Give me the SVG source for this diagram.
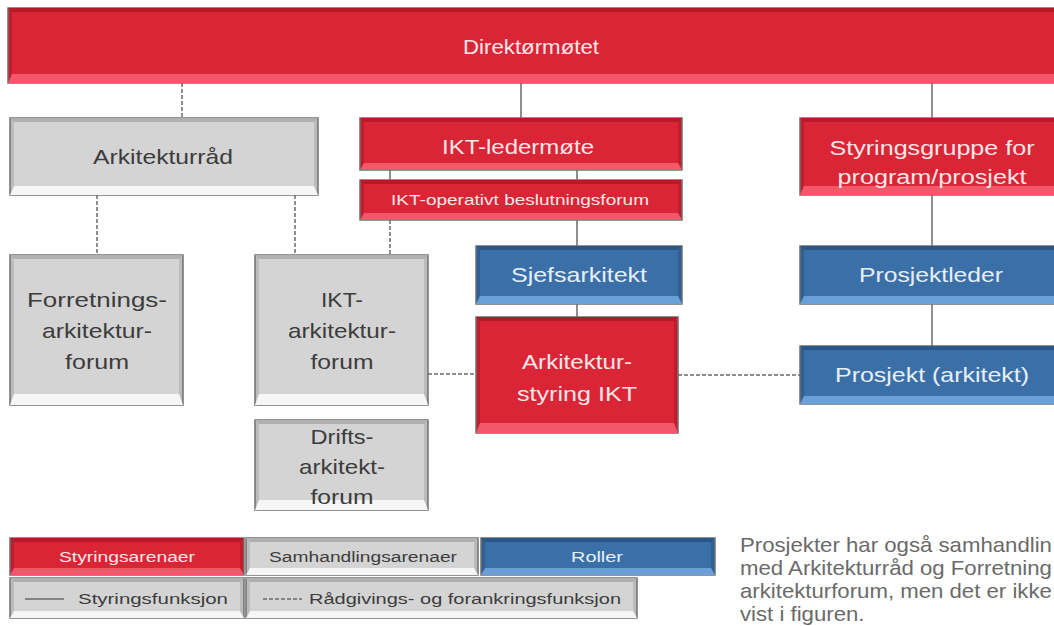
<svg xmlns="http://www.w3.org/2000/svg" width="1054" height="626" viewBox="0 0 1054 626">
<style>
text{font-family:"Liberation Sans",Arial,sans-serif;text-anchor:middle}
.side{stroke:#707070;stroke-width:1.5}
.red .side{fill:#c21d2d}.red .top{fill:#b51a29}.red .bot{fill:#f4566a}.red .face{fill:#da2536}.red text{fill:#fde6e8}
.blue .side{fill:#2f5f95}.blue .top{fill:#2a5688}.blue .bot{fill:#6aa0d8}.blue .face{fill:#3b6fa7}.blue text{fill:#e6eff9}
.gray .side{fill:#bcbcbc}.gray .top{fill:#b0b0b0}.gray .bot{fill:#f6f6f6}.gray .face{fill:#d4d4d4}.gray text{fill:#3c3c3c}
.sol{stroke:#6a6a6a;stroke-width:1.5;fill:none}
.dsh{stroke:#6a6a6a;stroke-width:1.5;fill:none;stroke-dasharray:4 2}
.big{font-size:21px}
.leg{font-size:15.5px}
.note{font-size:20px;fill:#6a6a6a;text-anchor:start}
</style>
<g id="connectors">
<line class="dsh" x1="182" y1="83" x2="182" y2="118"/>
<line class="sol" x1="521" y1="83" x2="521" y2="118"/>
<line class="sol" x1="932" y1="83" x2="932" y2="118"/>
<line class="dsh" x1="97" y1="195" x2="97" y2="255"/>
<line class="dsh" x1="295" y1="195" x2="295" y2="255"/>
<line class="sol" x1="390" y1="170" x2="390" y2="180"/>
<line class="sol" x1="577" y1="170" x2="577" y2="180"/>
<line class="dsh" x1="390" y1="220" x2="390" y2="255"/>
<line class="sol" x1="577" y1="220" x2="577" y2="246"/>
<line class="sol" x1="577" y1="304" x2="577" y2="317"/>
<line class="sol" x1="932" y1="195" x2="932" y2="246"/>
<line class="sol" x1="932" y1="304" x2="932" y2="346"/>
<line class="dsh" x1="428" y1="374" x2="476" y2="374"/>
<line class="dsh" x1="678" y1="375" x2="800" y2="375"/>
</g>
<g id="direktormotet" class="box red">
<rect class="side" x="8" y="8" width="1060" height="75"/>
<polygon class="top" points="8,8 1068,8 1064,12 12,12"/>
<polygon class="bot" points="8,83 1068,83 1064,74 12,74"/>
<rect class="face" x="12" y="12" width="1052" height="62"/>
<text class="big" x="531" y="54" textLength="136" lengthAdjust="spacingAndGlyphs">Direktørmøtet</text>
</g>
<g id="arkitekturrad" class="box gray">
<rect class="side" x="10" y="118" width="308" height="77"/>
<polygon class="top" points="10,118 318,118 314,122 14,122"/>
<polygon class="bot" points="10,195 318,195 314,186 14,186"/>
<rect class="face" x="14" y="122" width="300" height="64"/>
<text class="big" x="163" y="164" textLength="140" lengthAdjust="spacingAndGlyphs">Arkitekturråd</text>
</g>
<g id="iktledermote" class="box red">
<rect class="side" x="360" y="118" width="322" height="52"/>
<polygon class="top" points="360,118 682,118 678,122 364,122"/>
<polygon class="bot" points="360,170 682,170 678,163 364,163"/>
<rect class="face" x="364" y="122" width="314" height="41"/>
<text class="big" x="518" y="154" textLength="152" lengthAdjust="spacingAndGlyphs">IKT-ledermøte</text>
</g>
<g id="iktoperativt" class="box red">
<rect class="side" x="360" y="180" width="322" height="40"/>
<polygon class="top" points="360,180 682,180 678,184 364,184"/>
<polygon class="bot" points="360,220 682,220 678,213 364,213"/>
<rect class="face" x="364" y="184" width="314" height="29"/>
<text x="520" y="205" font-size="14.5" textLength="258" lengthAdjust="spacingAndGlyphs">IKT-operativt beslutningsforum</text>
</g>
<g id="styringsgruppe" class="box red">
<rect class="side" x="800" y="118" width="270" height="77"/>
<polygon class="top" points="800,118 1070,118 1066,122 804,122"/>
<polygon class="bot" points="800,195 1070,195 1066,186 804,186"/>
<rect class="face" x="804" y="122" width="262" height="64"/>
<text font-size="20" x="932" y="155" textLength="205" lengthAdjust="spacingAndGlyphs">Styringsgruppe for</text>
<text font-size="20" x="932" y="184" textLength="189" lengthAdjust="spacingAndGlyphs">program/prosjekt</text>
</g>
<g id="forretningsarkitekturforum" class="box gray">
<rect class="side" x="10" y="255" width="173" height="150"/>
<polygon class="top" points="10,255 183,255 179,259 14,259"/>
<polygon class="bot" points="10,405 183,405 179,394 14,394"/>
<rect class="face" x="14" y="259" width="165" height="135"/>
<text class="big" x="97" y="307" textLength="140" lengthAdjust="spacingAndGlyphs">Forretnings-</text>
<text class="big" x="97" y="338" textLength="110" lengthAdjust="spacingAndGlyphs">arkitektur-</text>
<text class="big" x="97" y="369" textLength="64" lengthAdjust="spacingAndGlyphs">forum</text>
</g>
<g id="iktarkitekturforum" class="box gray">
<rect class="side" x="255" y="255" width="173" height="150"/>
<polygon class="top" points="255,255 428,255 424,259 259,259"/>
<polygon class="bot" points="255,405 428,405 424,394 259,394"/>
<rect class="face" x="259" y="259" width="165" height="135"/>
<text class="big" x="342" y="307" textLength="42" lengthAdjust="spacingAndGlyphs">IKT-</text>
<text class="big" x="342" y="338" textLength="108" lengthAdjust="spacingAndGlyphs">arkitektur-</text>
<text class="big" x="342" y="369" textLength="63" lengthAdjust="spacingAndGlyphs">forum</text>
</g>
<g id="driftsarkitektforum" class="box gray">
<rect class="side" x="255" y="420" width="173" height="90"/>
<polygon class="top" points="255,420 428,420 424,424 259,424"/>
<polygon class="bot" points="255,510 428,510 424,500 259,500"/>
<rect class="face" x="259" y="424" width="165" height="76"/>
<text class="big" x="342" y="444" textLength="63" lengthAdjust="spacingAndGlyphs">Drifts-</text>
<text class="big" x="342" y="474" textLength="86" lengthAdjust="spacingAndGlyphs">arkitekt-</text>
<text class="big" x="342" y="504" textLength="63" lengthAdjust="spacingAndGlyphs">forum</text>
</g>
<g id="sjefsarkitekt" class="box blue">
<rect class="side" x="476" y="246" width="206" height="58"/>
<polygon class="top" points="476,246 682,246 678,250 480,250"/>
<polygon class="bot" points="476,304 682,304 678,296 480,296"/>
<rect class="face" x="480" y="250" width="198" height="46"/>
<text class="big" x="579" y="282" textLength="136" lengthAdjust="spacingAndGlyphs">Sjefsarkitekt</text>
</g>
<g id="prosjektleder" class="box blue">
<rect class="side" x="800" y="246" width="270" height="58"/>
<polygon class="top" points="800,246 1070,246 1066,250 804,250"/>
<polygon class="bot" points="800,304 1070,304 1066,296 804,296"/>
<rect class="face" x="804" y="250" width="262" height="46"/>
<text class="big" x="931" y="282" textLength="144" lengthAdjust="spacingAndGlyphs">Prosjektleder</text>
</g>
<g id="arkitekturstyring" class="box red">
<rect class="side" x="476" y="317" width="202" height="116"/>
<polygon class="top" points="476,317 678,317 674,321 480,321"/>
<polygon class="bot" points="476,433 678,433 674,423 480,423"/>
<rect class="face" x="480" y="321" width="194" height="102"/>
<text class="big" x="577" y="369" textLength="110" lengthAdjust="spacingAndGlyphs">Arkitektur-</text>
<text class="big" x="577" y="401" textLength="120" lengthAdjust="spacingAndGlyphs">styring IKT</text>
</g>
<g id="prosjektarkitekt" class="box blue">
<rect class="side" x="800" y="346" width="270" height="58"/>
<polygon class="top" points="800,346 1070,346 1066,350 804,350"/>
<polygon class="bot" points="800,404 1070,404 1066,396 804,396"/>
<rect class="face" x="804" y="350" width="262" height="46"/>
<text class="big" x="932" y="382" textLength="194" lengthAdjust="spacingAndGlyphs">Prosjekt (arkitekt)</text>
</g>
<g id="legend-styringsarenaer" class="box red">
<rect class="side" x="10" y="538" width="234" height="37"/>
<polygon class="top" points="10,538 244,538 240,542 14,542"/>
<polygon class="bot" points="10,575 244,575 240,568 14,568"/>
<rect class="face" x="14" y="542" width="226" height="26"/>
<text class="leg" x="127" y="562" textLength="136" lengthAdjust="spacingAndGlyphs">Styringsarenaer</text>
</g>
<g id="legend-samhandlingsarenaer" class="box gray">
<rect class="side" x="246" y="538" width="232" height="37"/>
<polygon class="top" points="246,538 478,538 474,542 250,542"/>
<polygon class="bot" points="246,575 478,575 474,568 250,568"/>
<rect class="face" x="250" y="542" width="224" height="26"/>
<text class="leg" x="363" y="562" textLength="188" lengthAdjust="spacingAndGlyphs">Samhandlingsarenaer</text>
</g>
<g id="legend-roller" class="box blue">
<rect class="side" x="481" y="538" width="234" height="37"/>
<polygon class="top" points="481,538 715,538 711,542 485,542"/>
<polygon class="bot" points="481,575 715,575 711,568 485,568"/>
<rect class="face" x="485" y="542" width="226" height="26"/>
<text class="leg" x="597" y="562" textLength="52" lengthAdjust="spacingAndGlyphs">Roller</text>
</g>
<g id="legend-styringsfunksjon" class="box gray">
<rect class="side" x="10" y="578" width="234" height="40"/>
<polygon class="top" points="10,578 244,578 240,582 14,582"/>
<polygon class="bot" points="10,618 244,618 240,611 14,611"/>
<rect class="face" x="14" y="582" width="226" height="29"/>
<line class="sol" x1="25" y1="599" x2="64" y2="599"/>
<text class="leg" x="153" y="604" textLength="150" lengthAdjust="spacingAndGlyphs">Styringsfunksjon</text>
</g>
<g id="legend-radgivingsfunksjon" class="box gray">
<rect class="side" x="246" y="578" width="391" height="40"/>
<polygon class="top" points="246,578 637,578 633,582 250,582"/>
<polygon class="bot" points="246,618 637,618 633,611 250,611"/>
<rect class="face" x="250" y="582" width="383" height="29"/>
<line class="dsh" x1="263" y1="599" x2="302" y2="599"/>
<text class="leg" x="465" y="604" textLength="312" lengthAdjust="spacingAndGlyphs">Rådgivings- og forankringsfunksjon</text>
</g>
<g id="note" transform="translate(740,0) scale(1.11,1)">
<text class="note" x="0" y="552">Prosjekter har også samhandlin</text>
<text class="note" x="0" y="575">med Arkitekturråd og Forretning</text>
<text class="note" x="0" y="598">arkitekturforum, men det er ikke</text>
<text class="note" x="0" y="621">vist i figuren.</text>
</g>
</svg>
